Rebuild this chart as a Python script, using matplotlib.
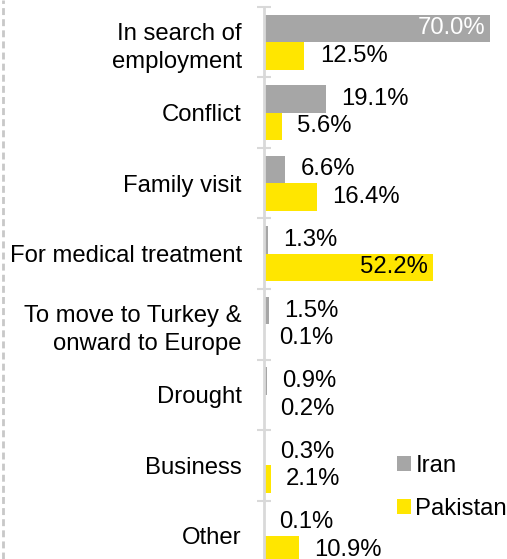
import numpy as np
import matplotlib
matplotlib.use('Agg')
import matplotlib.pyplot as plt
from matplotlib.lines import Line2D

categories = ['In search of\nemployment', 'Conflict', 'Family visit',
              'For medical treatment', 'To move to Turkey &\nonward to Europe',
              'Drought', 'Business', 'Other']
iran = [70.0, 19.1, 6.6, 1.3, 1.5, 0.9, 0.3, 0.1]
pakistan = [12.5, 5.6, 16.4, 52.2, 0.1, 0.2, 2.1, 10.9]
series_names = ['Iran', 'Pakistan']

GRAY = '#a6a6a6'
YELLOW = '#ffe600'
AXIS = '#d9d9d9'
FS = 17.2

plt.rcParams['font.family'] = ['Liberation Sans', 'DejaVu Sans']

fig = plt.figure(figsize=(5.07, 5.59), dpi=100)
ax = fig.add_axes([0.5207, -0.0215, 0.478, 1.009])

y = np.arange(len(categories))
h = 0.39
b1 = ax.barh(y - h/2, iran, height=h, color=GRAY, label=series_names[0])
b2 = ax.barh(y + h/2, pakistan, height=h, color=YELLOW, label=series_names[1])

ax.set_xlim(0, 75)
ax.set_ylim(len(categories) - 0.5, -0.5)

# value labels
for bars, vals in ((b1, iran), (b2, pakistan)):
    for bar, v in zip(bars, vals):
        yc = bar.get_y() + bar.get_height() / 2
        txt = f'{v:.1f}%'
        if v > 50:
            col = 'white' if bars is b1 else 'black'
            ax.annotate(txt, (v, yc), xytext=(-3.5, 0), textcoords='offset points',
                        ha='right', va='center', fontsize=FS, color=col)
        else:
            ax.annotate(txt, (v, yc), xytext=(11, 0), textcoords='offset points',
                        ha='left', va='center', fontsize=FS, color='black')

for s in ['top', 'right', 'bottom']:
    ax.spines[s].set_visible(False)
ax.spines['left'].set_color(AXIS)
ax.spines['left'].set_linewidth(2)
ax.set_xticks([])
ax.set_yticks(y)
ax.set_yticklabels(categories, fontsize=FS, linespacing=1.35)
ax.tick_params(axis='y', which='major', length=0, pad=16)
ax.set_yticks(np.arange(len(categories) + 1) - 0.5, minor=True)
ax.tick_params(axis='y', which='minor', length=9.5, width=1.5, color=AXIS,
               direction='inout')

leg = ax.legend(loc='upper left', bbox_to_anchor=(0.784, 0.186),
                bbox_transform=fig.transFigure, frameon=False, fontsize=FS,
                handlelength=0.55, handleheight=0.55, handletextpad=0.2,
                labelspacing=0.88, borderaxespad=0, borderpad=0)

# dashed border on the left side
fig.add_artist(Line2D([0.005, 0.005], [0, 1], transform=fig.transFigure,
                      color='#c8c8c8', lw=2, linestyle=(0, (2.5, 1.5))))

fig.savefig('out.png', dpi=100)
